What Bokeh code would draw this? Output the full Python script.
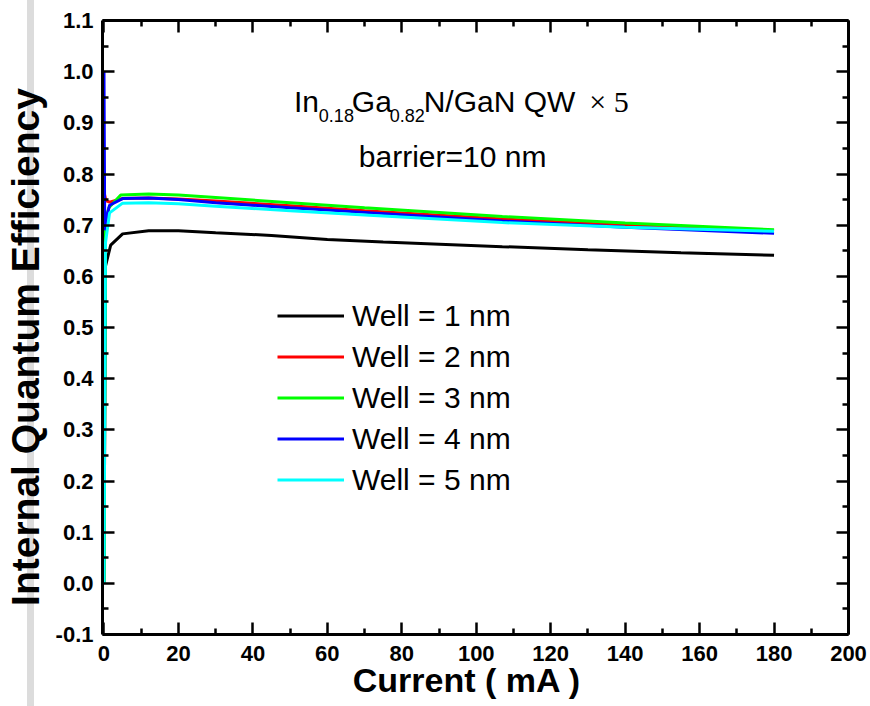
from bokeh.plotting import figure
from bokeh.models import (Range1d, LinearAxis, FixedTicker, PrintfTickFormatter,
                          Label, Legend, LegendItem)
from bokeh.embed import file_html
from bokeh.resources import INLINE

# ---- data ----
x_w1 = [0, 0.4, 1.8, 5, 12, 20, 30, 45, 60, 75, 107, 130, 155, 180]
y_w1 = [0.0, 0.62, 0.661, 0.683, 0.689, 0.689, 0.685, 0.680, 0.672, 0.667, 0.658, 0.652, 0.646, 0.641]

x_w2 = [0, 0.5, 1.5, 5, 12, 20, 30, 50, 70, 107, 140, 180]
y_w2 = [0.765, 0.748, 0.745, 0.752, 0.753, 0.751, 0.747, 0.738, 0.728, 0.712, 0.700, 0.689]

x_w3 = [0, 0.4, 1.3, 4.5, 12, 20, 30, 50, 70, 107, 140, 180]
y_w3 = [0.0, 0.704, 0.734, 0.759, 0.761, 0.759, 0.754, 0.744, 0.734, 0.717, 0.704, 0.691]

x_w4 = [0, 0.2, 0.5, 1.5, 5, 12, 20, 30, 50, 70, 107, 140, 180]
y_w4 = [1.0, 0.69, 0.71, 0.739, 0.752, 0.753, 0.750, 0.744, 0.734, 0.725, 0.708, 0.696, 0.684]

x_w5 = [0, 0.4, 1.5, 5, 12, 20, 30, 50, 70, 107, 140, 180]
y_w5 = [0.0, 0.665, 0.724, 0.743, 0.744, 0.742, 0.737, 0.728, 0.720, 0.705, 0.696, 0.688]

series_labels = ["Well = 1 nm", "Well = 2 nm", "Well = 3 nm", "Well = 4 nm", "Well = 5 nm"]
series_colors = ["#000000", "#ff0000", "#00ff00", "#0000ff", "#00ffff"]

x_major = [0, 20, 40, 60, 80, 100, 120, 140, 160, 180, 200]
x_minor = [10, 30, 50, 70, 90, 110, 130, 150, 170, 190]
y_major = [-0.1, 0.0, 0.1, 0.2, 0.3, 0.4, 0.5, 0.6, 0.7, 0.8, 0.9, 1.0, 1.1]
y_minor = [-0.05, 0.05, 0.15, 0.25, 0.35, 0.45, 0.55, 0.65, 0.75, 0.85, 0.95, 1.05]

FONT = "Liberation Sans"

p = figure(width=870, height=706, output_backend="svg", toolbar_location=None,
           x_range=Range1d(-0.4, 200), y_range=Range1d(-0.1, 1.1),
           x_axis_location=None, y_axis_location=None,
           min_border_left=101, min_border_right=22, min_border_top=20, min_border_bottom=72)
p.grid.visible = False
p.outline_line_color = None
p.background_fill_color = "white"
p.border_fill_color = None
p.styles = {"background": "linear-gradient(90deg, #ffffff 0px, #ffffff 27px, #dcdcdc 27px, #dcdcdc 34px, #ffffff 34px)"}


def make_axis(kind, show_labels):
    ax = LinearAxis()
    if kind == "x":
        ticks = x_major
        ax.ticker = FixedTicker(ticks=x_major, minor_ticks=x_minor)
    else:
        ticks = y_major
        ax.ticker = FixedTicker(ticks=y_major, minor_ticks=y_minor)
        ax.formatter = PrintfTickFormatter(format="%.1f")
    ax.axis_line_width = 3
    ax.axis_line_color = "black"
    ax.major_tick_in = 12
    ax.major_tick_out = 0
    ax.minor_tick_in = 6
    ax.minor_tick_out = 0
    ax.major_tick_line_width = 2.5
    ax.minor_tick_line_width = 2.5
    ax.major_label_text_font = FONT
    ax.major_label_text_font_style = "bold"
    ax.major_label_text_color = "black"
    ax.axis_label_text_font = FONT
    ax.axis_label_text_font_style = "bold"
    ax.axis_label_text_color = "black"
    if show_labels:
        ax.major_label_text_font_size = "22px"
        ax.major_label_standoff = 11 if kind == "x" else 9
    else:
        ax.major_label_text_font_size = "10px"
        ax.major_label_standoff = 0
        ax.major_label_overrides = {t: "" for t in ticks}
    return ax


xb = make_axis("x", True)
xb.axis_label = "Current ( mA )\u2002"
xb.axis_label_text_font_size = "34px"
xb.axis_label_standoff = -3
p.add_layout(xb, "below")
p.add_layout(make_axis("x", False), "above")

yl = make_axis("y", True)
yl.axis_label = "Internal Quantum Efficiency\u2003"
yl.axis_label_text_font_size = "39px"
yl.axis_label_standoff = 6
p.add_layout(yl, "left")
p.add_layout(make_axis("y", False), "right")

xs = [x_w1, x_w2, x_w3, x_w4, x_w5]
ys = [y_w1, y_w2, y_w3, y_w4, y_w5]
renderers = []
for xv, yv, c in zip(xs, ys, series_colors):
    r = p.line(xv, yv, line_color=c, line_width=3)
    renderers.append(r)

legend = Legend(items=[LegendItem(label=lab, renderers=[r]) for lab, r in zip(series_labels, renderers)],
                location=(175, 134), orientation="vertical",
                glyph_width=67, glyph_height=41, label_height=41, spacing=0,
                label_standoff=8, padding=0, margin=0,
                border_line_color=None, background_fill_alpha=0,
                label_text_font=FONT, label_text_font_size="30px", label_text_color="black")
p.add_layout(legend)


def px_x(px):
    return (px - 101.7) / 3.73


def px_y(py):
    return (584.0 - py) / 512.5


def add_text(text, px, py, size, font=FONT, style="normal"):
    p.add_layout(Label(x=px_x(px), y=px_y(py), text=text, text_font=font, text_font_size=size,
                       text_font_style=style, text_color="black",
                       text_align="left", text_baseline="alphabetic"))


# annotation: In0.18Ga0.82N/GaN QW x 5
add_text("In", 292, 101, "30px")
add_text("0.18", 317, 115, "18px")
add_text("Ga", 350, 101, "30px")
add_text("0.82", 388, 115, "18px")
add_text("N/GaN QW", 422, 101, "30px")
add_text("\u00d7 5", 588, 101, "30px", font="Liberation Serif")
add_text("barrier=10 nm", 357, 156, "30px")

open("out.html", "w").write(file_html(p, INLINE))
